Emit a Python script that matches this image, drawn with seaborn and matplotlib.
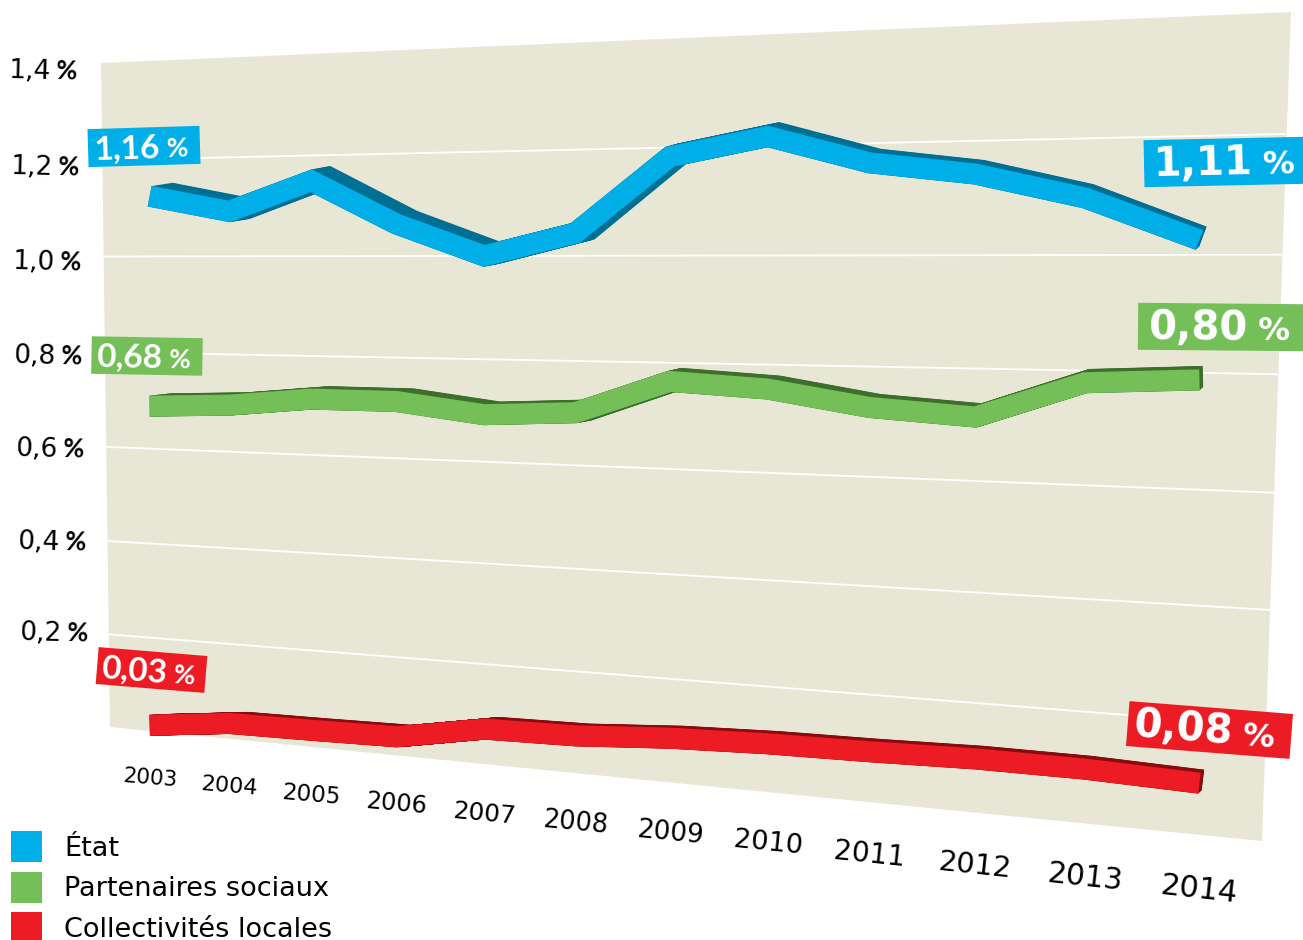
import numpy as np
import pandas as pd
import seaborn as sns
import matplotlib.pyplot as plt
from matplotlib.patches import Patch
from matplotlib.transforms import Transform

sns.set_theme(style='white')
plt.rcParams['font.family'] = ['DejaVu Sans']

# values (position on the drawn scale)
annees = list(range(2003, 2015))
etat = [1.124, 1.091, 1.150, 1.063, 1.000, 1.043, 1.183, 1.216, 1.165, 1.142, 1.098, 1.025]
partenaires = [0.689, 0.696, 0.713, 0.713, 0.692, 0.701, 0.765, 0.755, 0.726, 0.714, 0.779, 0.788]
collectivites = [0.013, 0.033, 0.035, 0.038, 0.070, 0.073, 0.085, 0.091, 0.093, 0.097, 0.096, 0.089]
noms = ['État', 'Partenaires sociaux', 'Collectivités locales']
graduations = [1.4, 1.2, 1.0, 0.8, 0.6, 0.4, 0.2]
grad_labels = ['1,4', '1,2', '1,0', '0,8', '0,6', '0,4', '0,2']
debut_labels = ['1,16', '0,68', '0,03']
fin_labels = ['1,11', '0,80', '0,08']

couleurs = dict(zip(noms, ['#00AEE8', '#74BF58', '#ED1C24']))
sombres = dict(zip(noms, ['#006F94', '#3E6E2C', '#8A0A0E']))
FOND = '#E8E7D6'

# the panel is a tilted plane: corners of the plane in image pixels
X0, X1 = 2002.43, 2014.65
VMAX = 1.4
COINS = np.array([[110, 727], [1262, 841], [1291, 12], [101, 63]], float)


class Perspective(Transform):
    input_dims = 2
    output_dims = 2

    def __init__(self, colonnes=False):
        super().__init__()
        # colonnes: a year stays on one vertical, whatever the value
        self.colonnes = colonnes
        (x0, y0), (x1, y1), (x2, y2), (x3, y3) = COINS
        den = (x1 - x2) * (y3 - y2) - (x3 - x2) * (y1 - y2)
        sx, sy = x0 - x1 + x2 - x3, y0 - y1 + y2 - y3
        self.g = (sx * (y3 - y2) - (x3 - x2) * sy) / den
        self.h = ((x1 - x2) * sy - sx * (y1 - y2)) / den
        self.a, self.b, self.c = x1 - x0 + self.g * x1, x3 - x0 + self.h * x3, x0
        self.d, self.e, self.f = y1 - y0 + self.g * y1, y3 - y0 + self.h * y3, y0

    def transform_non_affine(self, values):
        values = np.asarray(values, float)
        u = (values[:, 0] - X0) / (X1 - X0)
        v = values[:, 1] / VMAX
        w = self.g * u + self.h * v + 1
        vx = 0.5 if self.colonnes else v
        wx = self.g * u + self.h * vx + 1
        return np.column_stack([(self.a * u + self.b * vx + self.c) / wx,
                                (self.d * u + self.e * v + self.f) / w])


df = pd.DataFrame({'annee': annees * 3,
                   'taux': etat + partenaires + collectivites,
                   'serie': np.repeat(noms, len(annees))})

fig = plt.figure(figsize=(13.03, 9.40), dpi=100)
ax = fig.add_axes([0, 0, 1, 1])
T = Perspective() + ax.transData
TC = Perspective(colonnes=True) + ax.transData

ax.fill([X0, X1, X1, X0], [0, 0, VMAX, VMAX], color=FOND, lw=0, transform=T)
for g in graduations[1:]:
    ax.plot([X0, X1], [g, g], color='white', lw=1.3, transform=T, solid_capstyle='butt')

LARGEUR = 21 * 0.72
ligne = dict(lw=LARGEUR, solid_joinstyle='miter', solid_capstyle='butt', transform=TC,
             legend=False, errorbar=None, ax=ax, sort=False)

# side of the ribbon: copies of the line swept towards the back
for t in np.linspace(1, 0, 14):
    dos = df.copy()
    dos['annee'] = df['annee'] + t * (0.03 + 0.23 * (2014 - df['annee']) / 11)
    dos['taux'] = df['taux'] + t * 0.006
    sns.lineplot(data=dos, x='annee', y='taux', hue='serie', palette=sombres, **ligne)
sns.lineplot(data=df, x='annee', y='taux', hue='serie', palette=couleurs, **ligne)

# years, growing towards the front of the plane
for i, annee in enumerate(annees):
    ax.text(annee, -0.1, str(annee), transform=TC, ha='center', va='center',
            rotation=-4.7 - 1.6 * i / 11, rotation_mode='anchor', color='black',
            fontsize=15.5 + 6.5 * i / 11)

# percentage scale
grad_x = [42, 44, 46, 47, 49, 51, 53]
grad_y = [69, 165, 260, 354, 447, 540, 631]
for lab, x, y in zip(grad_labels, grad_x, grad_y):
    ax.text(x + 8, y + 10, lab, ha='right', va='baseline', fontsize=19,
            rotation=-1.5, rotation_mode='anchor', color='black')
    ax.text(x + 14, y + 10, '%', ha='left', va='baseline', fontsize=18.5, fontweight='bold',
            family='Lato', rotation=-1.5, rotation_mode='anchor', color='black')


def etiquette(txt, cx, cy, w, h, angle, couleur, fs, fs_pct, famille, decal, ecart, base):
    r = np.radians(angle)
    ex, ey = np.array([np.cos(r), -np.sin(r)]), np.array([np.sin(r), np.cos(r)])
    c = np.array([cx, cy])
    pts = [c + sx * w / 2 * ex + sy * h / 2 * ey for sx, sy in [(-1, -1), (1, -1), (1, 1), (-1, 1)]]
    ax.fill(*zip(*pts), color=couleur, lw=0, zorder=5)
    p1 = c + decal * ex + base * ey
    p2 = c + (decal + ecart) * ex + base * ey
    ax.text(*p1, txt, ha='right', va='baseline', color='white', fontsize=fs, fontweight='bold',
            family=famille, rotation=angle, rotation_mode='anchor', zorder=6)
    ax.text(*p2, '%', ha='left', va='baseline', color='white', fontsize=fs_pct, fontweight='bold',
            family=famille, rotation=angle, rotation_mode='anchor', zorder=6)


petit = dict(fs=24, fs_pct=19, famille='Lato', ecart=7, base=11.5)
grand = dict(fs=29, fs_pct=23, famille='DejaVu Sans', ecart=11, base=12.5)
etiquette(debut_labels[0], 144, 146.5, 112, 38, 1.7, couleurs[noms[0]], decal=16, **petit)
etiquette(debut_labels[1], 147, 356, 111, 37.5, -1, couleurs[noms[1]], decal=15, **petit)
etiquette(debut_labels[2], 151.5, 670, 109, 37, -4.7, couleurs[noms[2]], decal=16, **petit)
etiquette(fin_labels[0], 1224, 162, 160, 47, 1.2, couleurs[noms[0]], decal=28, **grand)
etiquette(fin_labels[1], 1221, 327, 166, 47, -0.5, couleurs[noms[1]], decal=26, **grand)
etiquette(fin_labels[2], 1209.5, 730, 164, 45, -4.5, couleurs[noms[2]], decal=23, **grand)

taille = 19.5
px = taille / 0.72
cote = (31 / px - 0.245) / 0.65
ax.legend([Patch(color=couleurs[n], lw=0) for n in noms], noms, loc='lower left',
          bbox_to_anchor=(11, 943), bbox_transform=ax.transData,
          frameon=False, fontsize=taille, borderpad=0, borderaxespad=0,
          handlelength=31 / px, handleheight=cote, handletextpad=22 / px,
          labelspacing=9.5 / px, labelcolor='black')

ax.set_xlim(0, 1303)
ax.set_ylim(940, 0)
ax.axis('off')
fig.savefig('out.png', dpi=100)
